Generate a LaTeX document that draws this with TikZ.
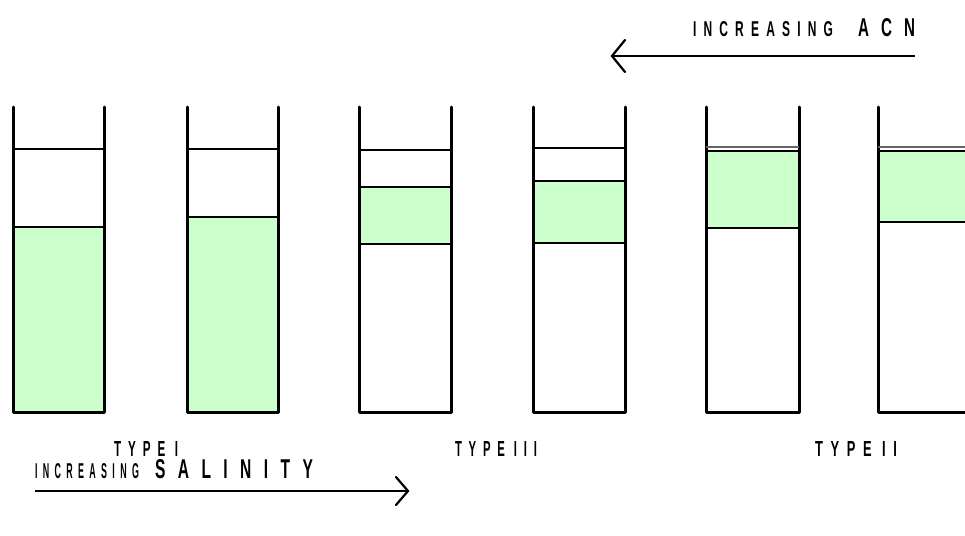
\documentclass[tikz,border=0pt]{standalone}
\usepackage{fontspec}
\usepackage{graphicx}
\newfontfamily\labfont[LetterSpace=60]{Liberation Sans Bold}
\newfontfamily\labfontw[LetterSpace=80]{Liberation Sans Bold}
\newcommand{\fittext}[3]{\resizebox{#1pt}{#2pt}{\labfont #3}}
\newcommand{\fittextw}[3]{\resizebox{#1pt}{#2pt}{\labfontw #3}}
\definecolor{phase}{RGB}{204,255,204}
\tikzset{
  wall/.style={line width=3pt, line cap=round, line join=round},
  level/.style={line width=2.7pt},
  thinlevel/.style={line width=1.4pt, draw=black!60},
  lab/.style={inner sep=0pt, outer sep=0pt},
  flowarrow/.style={line width=2.4pt},
  headarm/.style={line width=2.2pt, line cap=round}
}
\newcommand{\tube}[3]{% left x, right x, name
  \coordinate (#3tl) at (#1,107);
  \coordinate (#3bl) at (#1,412);
  \coordinate (#3br) at (#2,412);
  \coordinate (#3tr) at (#2,107);
  \draw[wall] (#3tl) -- (#3bl) -- (#3br) -- (#3tr);
}
\begin{document}
\begin{tikzpicture}[x=1pt,y=-1pt]
\useasboundingbox (0,0) rectangle (965,535);
\clip (0,0) rectangle (965,535);
% green phases
\fill[phase] (13,227) rectangle (104,412);
\fill[phase] (187,217) rectangle (278,412);
\fill[phase] (359,187) rectangle (451,244);
\fill[phase] (533,181) rectangle (625,243);
\fill[phase] (706,151) rectangle (799,228);
\fill[phase] (878,151) rectangle (975,222);
% tubes
\tube{13}{104}{ta}
\tube{187}{278}{tb}
\tube{359}{451}{tc}
\tube{533}{625}{td}
\tube{706}{799}{te}
\tube{878}{970}{tf}
% levels
\draw[level] (13,149) -- (104,149);
\draw[level] (13,227) -- (104,227);
\draw[level] (187,149) -- (278,149);
\draw[level] (187,217) -- (278,217);
\draw[level] (359,150) -- (451,150);
\draw[level] (359,187) -- (451,187);
\draw[level] (359,244) -- (451,244);
\draw[level] (533,148) -- (625,148);
\draw[level] (533,181) -- (625,181);
\draw[level] (533,243) -- (625,243);
\draw[thinlevel] (706,147) -- (799,147);
\draw[level] (706,151) -- (799,151);
\draw[level] (706,228) -- (799,228);
\draw[thinlevel] (878,147) -- (970,147);
\draw[level] (878,151) -- (970,151);
\draw[level] (878,222) -- (970,222);
% top label and arrow
\node[lab, anchor=south west] (incacn) at (693,37) {\fittext{140}{15}{INCREASING}};
\node[lab, anchor=south west] (acn) at (858,37) {\fittextw{57}{18}{ACN}};
\coordinate (acnstart) at (915,56);
\coordinate (acnend) at (612,56);
\draw[flowarrow] (acnstart) -- (acnend);
\draw[headarm] (625,40) -- (acnend) -- (625,72);
% type labels
\node[lab, anchor=south west] (type1) at (114,456) {\fittext{64}{15}{TYPE\kern0.8em I}};
\node[lab, anchor=south west] (type3) at (455,456) {\fittext{82}{15}{TYPE\kern0.8em III}};
\node[lab, anchor=south west] (type2) at (815,456) {\fittext{82}{15}{TYPE\kern0.8em II}};
% bottom label and arrow
\node[lab, anchor=south west] (incsal) at (35,479) {\fittext{104}{15}{INCREASING}};
\node[lab, anchor=south west] (sal) at (155,479) {\fittextw{158}{19}{SALINITY}};
\coordinate (salstart) at (35,491);
\coordinate (salend) at (408,491);
\draw[flowarrow] (salstart) -- (salend);
\draw[headarm] (396,477) -- (salend) -- (396,505);
\end{tikzpicture}
\end{document}
